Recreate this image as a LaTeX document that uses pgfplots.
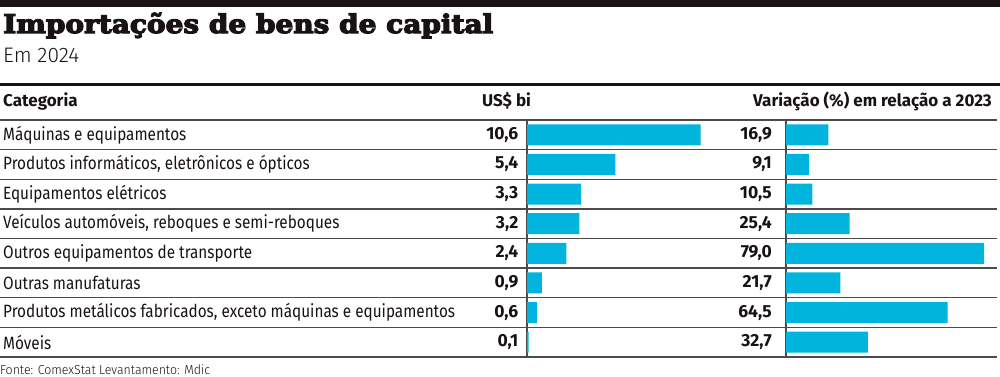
\documentclass[border=0pt]{standalone}
\usepackage{pgfplots}
\usepackage{pgfplotstable}
\pgfplotsset{compat=1.18}
\usepackage{fontspec}
\setmainfont{Fira Sans}
\newfontfamily\titlefont{DejaVu Serif}[BoldFeatures={FakeBold=4.5}]
\newfontfamily\lightfont{Fira Sans Light}
\definecolor{barc}{RGB}{0,180,222}
\definecolor{rulec}{RGB}{75,75,75}
\definecolor{ink}{RGB}{25,18,18}
\newcommand{\lbl}[1]{\scalebox{0.86}[1]{#1}}
\newcommand{\lblfont}{\fontsize{17.8}{17.8}\selectfont}
\newcommand{\valfont}{\bfseries\fontsize{17.5}{17.5}\selectfont}

\pgfplotstableread{
x y z lab
0.1 0 0 0,1
0.6 1 0 0,6
0.9 2 0 0,9
2.4 3 0 2,4
3.2 4 0 3,2
3.3 5 0 3,3
5.4 6 0 5,4
10.6 7 0 10,6
}\usdata

\pgfplotstableread{
x y z lab
32.7 0 0 32,7
64.5 1 0 64,5
21.7 2 0 21,7
79.0 3 0 79,0
25.4 4 0 25,4
10.5 5 0 10,5
9.1 6 0 9,1
16.9 7 0 16,9
}\vardata

\begin{document}
\begin{tikzpicture}
\useasboundingbox (0pt,0pt) rectangle (1000pt,-376pt);
\fill[ink] (0pt,0pt) rectangle (1000pt,-6.7pt);
\node[anchor=base west, inner sep=0pt, text=ink] at (3pt,-33pt)
  {\resizebox{490pt}{20.3pt}{\titlefont\bfseries Importações de bens de capital}};
\node[anchor=base west, inner sep=0pt, text=ink, font=\lightfont\fontsize{21}{21}\selectfont] at (3pt,-62.7pt) {Em 2024};
\draw[line width=3pt, ink] (0pt,-84pt) -- (1000pt,-84pt);
\node[anchor=base west, inner sep=0pt, text=ink, font=\bfseries\fontsize{17}{17}\selectfont] at (3pt,-106pt) {Categoria};
\node[anchor=base west, inner sep=0pt, text=ink, font=\bfseries\fontsize{17}{17}\selectfont] at (482pt,-106pt) {US\$ bi};
\node[anchor=base east, inner sep=0pt, text=ink, font=\bfseries\fontsize{17}{17}\selectfont] at (992pt,-106pt) {Variação (\%) em relação a 2023};
\foreach \k in {0,...,8} {
  \draw[rulec, line width=1.3pt] (0pt,{(-120-29.625*\k)*1pt}) -- (997pt,{(-120-29.625*\k)*1pt});
}
\begin{axis}[
  at={(527pt,-120pt)}, anchor=north west, scale only axis,
  width=173.7pt, height=237pt,
  xmin=0, xmax=10.6, ymin=-0.5, ymax=7.5,
  hide x axis, axis y line*=left,
  y axis line style={rulec, line width=1.3pt, -},
  ytick={0,...,7}, major tick length=0pt, ytick style={draw=none},
  yticklabels={
    {\lbl{Móveis}},
    {\lbl{Produtos metálicos fabricados, exceto máquinas e equipamentos}},
    {\lbl{Outras manufaturas}},
    {\lbl{Outros equipamentos de transporte}},
    {\lbl{Veículos automóveis, reboques e semi-reboques}},
    {\lbl{Equipamentos elétricos}},
    {\lbl{Produtos informáticos, eletrônicos e ópticos}},
    {\lbl{Máquinas e equipamentos}}},
  yticklabel style={anchor=west, inner sep=0pt, xshift=-524pt, font=\lblfont, text=ink},
  clip=false,
]
\addplot[xbar, bar width=21pt, fill=barc, draw=none] table[x=x, y=y] {\usdata};
\addplot[only marks, mark=none, nodes near coords, point meta=explicit symbolic,
  nodes near coords style={anchor=east, xshift=-8.5pt, inner sep=0pt, font=\valfont, text=ink}]
  table[x=z, y=y, meta=lab] {\usdata};
\end{axis}
\begin{axis}[
  at={(786pt,-120pt)}, anchor=north west, scale only axis,
  width=198pt, height=237pt,
  xmin=0, xmax=79, ymin=-0.5, ymax=7.5,
  hide x axis, axis y line*=left,
  y axis line style={rulec, line width=1.3pt, -},
  ytick=\empty,
  clip=false,
]
\addplot[xbar, bar width=21pt, fill=barc, draw=none] table[x=x, y=y] {\vardata};
\addplot[only marks, mark=none, nodes near coords, point meta=explicit symbolic,
  nodes near coords style={anchor=east, xshift=-14pt, inner sep=0pt, font=\valfont, text=ink}]
  table[x=z, y=y, meta=lab] {\vardata};
\end{axis}
\node[anchor=base west, inner sep=0pt, text=ink, font=\lightfont\fontsize{13}{13}\selectfont] at (0pt,-374pt)
  {\scalebox{0.95}[1]{Fonte: ComexStat Levantamento: Mdic}};
\end{tikzpicture}
\end{document}
